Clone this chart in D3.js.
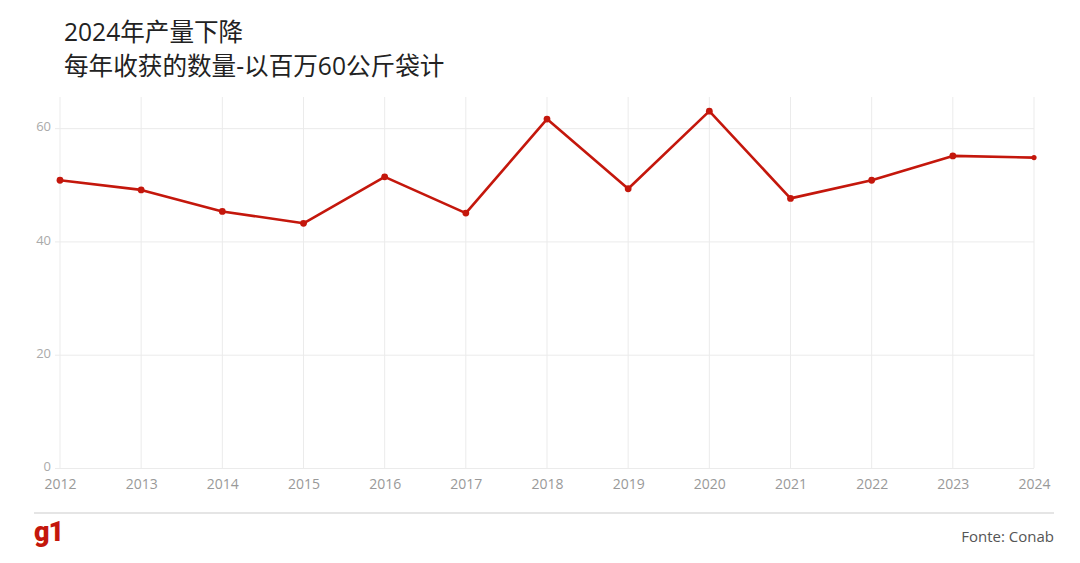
<!DOCTYPE html>
<html>
<head>
<meta charset="utf-8">
<script src="https://cdn.jsdelivr.net/npm/d3@7"></script>
<style>
  body { margin: 0; background: #fff; }
  svg { display: block; font-family: "Open Sans", "Noto Sans CJK SC", sans-serif; }
</style>
</head>
<body>
<svg id="chart" width="1080" height="563"></svg>
<script>
// harvest per year, millions of 60kg bags (Conab)
const years = [2012, 2013, 2014, 2015, 2016, 2017, 2018, 2019, 2020, 2021, 2022, 2023, 2024];
const production = [50.8, 49.1, 45.3, 43.2, 51.4, 45.0, 61.6, 49.3, 63.0, 47.6, 50.8, 55.1, 54.8];
const yTicks = [0, 20, 40, 60];
const titleLines = ["2024年产量下降", "每年收获的数量-以百万60公斤袋计"];
const source = "Fonte: Conab";

const svg = d3.select("#chart");
const c_left = 60, c_right = 1034, c_top = 97, c_bottom = 468;

const x = d3.scaleLinear().domain([2012, 2024]).range([c_left, c_right]);
const y = d3.scaleLinear().domain([0, 65.5]).range([c_bottom, c_top]);

// title
svg.selectAll("text.title")
    .data(titleLines)
    .enter()
    .append("text")
    .attr("class", "title")
    .attr("x", 64)
    .attr("y", (d, i) => 41 + i * 34)
    .attr("font-family", "'Open Sans', 'Noto Sans CJK SC', sans-serif")
    .attr("font-size", 24.6)
    .attr("fill", "#222")
    .text(d => d);

// vertical grid
svg.append("g")
    .selectAll("line")
    .data(years)
    .enter()
    .append("line")
    .attr("x1", d => x(d)).attr("x2", d => x(d))
    .attr("y1", c_top).attr("y2", c_bottom)
    .attr("stroke", "#ebebeb")
    .attr("stroke-width", 1);

// y axis with gridlines
const yAxis = svg.append("g")
    .attr("transform", `translate(${c_left},0)`)
    .call(d3.axisLeft(y).tickValues(yTicks).tickSize(-(c_right - c_left)).tickPadding(9));
yAxis.select(".domain").remove();
yAxis.selectAll(".tick line").attr("stroke", "#ebebeb").attr("x1", -5);
yAxis.selectAll(".tick text")
    .attr("fill", "#aaa")
    .attr("font-size", 13)
    .attr("dy", "0.2em")
    .attr("font-family", "'Open Sans', sans-serif");

// x axis labels
const xAxis = svg.append("g")
    .attr("transform", `translate(0,${c_bottom})`)
    .call(d3.axisBottom(x).tickValues(years).tickFormat(d3.format("d")).tickSize(0).tickPadding(12));
xAxis.select(".domain").remove();
xAxis.selectAll(".tick text")
    .attr("fill", "#999")
    .attr("font-size", 14)
    .attr("dy", "0.66em")
    .attr("font-family", "'Open Sans', sans-serif");

// line
const pts = years.map((yr, i) => ({ year: yr, value: production[i] }));
const line = d3.line().x(d => x(d.year)).y(d => y(d.value));

svg.append("path")
    .datum(pts)
    .attr("d", line)
    .attr("fill", "none")
    .attr("stroke", "#c4170c")
    .attr("stroke-width", 2.6)
    .attr("stroke-linejoin", "round");

svg.append("g")
    .selectAll("circle")
    .data(pts)
    .enter()
    .append("circle")
    .attr("cx", d => x(d.year))
    .attr("cy", d => y(d.value))
    .attr("r", (d, i) => i == pts.length - 1 ? 2.6 : 3.4)
    .attr("fill", "#c4170c");

// footer
svg.append("line")
    .attr("x1", 34).attr("x2", 1054)
    .attr("y1", 513).attr("y2", 513)
    .attr("stroke", "#ddd")
    .attr("stroke-width", 1.5);

svg.append("text")
    .attr("x", 34)
    .attr("y", 541)
    .attr("font-family", "Roboto, 'Open Sans', sans-serif")
    .attr("font-weight", 900)
    .attr("font-size", 27)
    .attr("letter-spacing", -1)
    .attr("fill", "#c4170c")
    .text("g1");

svg.append("text")
    .attr("x", 1054)
    .attr("y", 542)
    .attr("text-anchor", "end")
    .attr("font-size", 15)
    .attr("fill", "#555")
    .text(source);
</script>
</body>
</html>
